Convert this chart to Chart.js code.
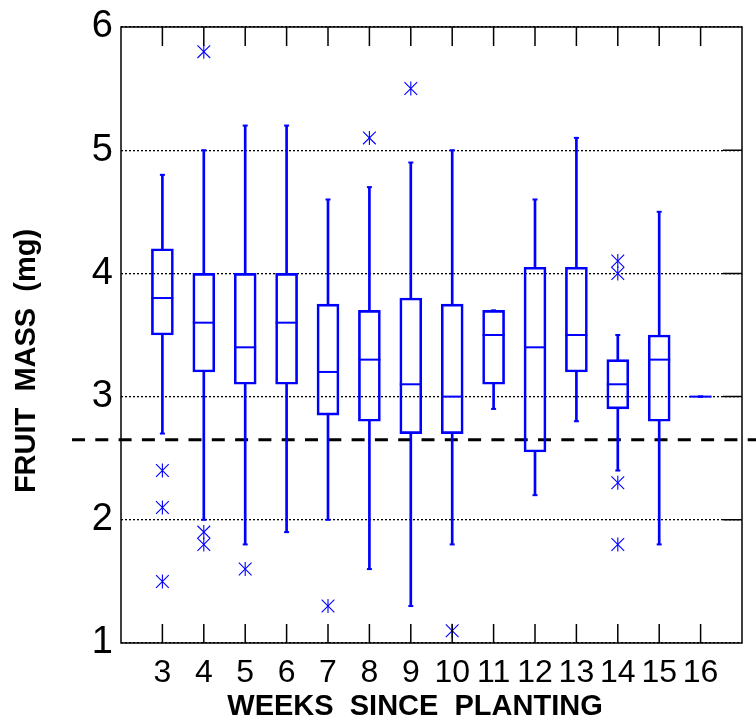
<!DOCTYPE html>
<html>
<head>
<meta charset="utf-8">
<script src="https://cdn.jsdelivr.net/npm/chart.js@4.4.1/dist/chart.umd.min.js"></script>
<style>
  html, body { margin: 0; padding: 0; background: #fff; }
  canvas { display: block; }
</style>
</head>
<body>
<canvas id="chart" width="756" height="723"></canvas>
<script>
// box plot of fruit mass per week
const weeks        = [3, 4, 5, 6, 7, 8, 9, 10, 11, 12, 13, 14, 15, 16];
const lowerWhisker = [2.7, 2.0, 1.8, 1.9, 2.0, 1.6, 1.3, 1.8, 2.9, 2.2, 2.8, 2.4, 1.8, 3.0];
const q1           = [3.5, 3.2, 3.1, 3.1, 2.85, 2.8, 2.7, 2.7, 3.1, 2.55, 3.2, 2.9, 2.8, 3.0];
const medians      = [3.8, 3.6, 3.4, 3.6, 3.2, 3.3, 3.1, 3.0, 3.5, 3.4, 3.5, 3.1, 3.3, 3.0];
const q3           = [4.2, 4.0, 4.0, 4.0, 3.75, 3.7, 3.8, 3.75, 3.7, 4.05, 4.05, 3.3, 3.5, 3.0];
const upperWhisker = [4.8, 5.0, 5.2, 5.2, 4.6, 4.7, 4.9, 5.0, 3.7, 4.6, 5.1, 3.5, 4.5, 3.0];
// outliers as [week, value]
const outliers = [
  [3, 2.4], [3, 2.1], [3, 1.5],
  [4, 5.8], [4, 1.9], [4, 1.8],
  [5, 1.6], [7, 1.3], [8, 5.1], [9, 5.5], [10, 1.1],
  [14, 4.1], [14, 4.0], [14, 2.3], [14, 1.8]
];
const referenceLevel = 2.65;
const yTicks = [1, 2, 3, 4, 5, 6];

const BLUE = '#0000ff';
const FONT = '"Liberation Sans", Arial, Helvetica, sans-serif';

const boxData = weeks.map((w, i) => ({x: w, y: [q1[i], q3[i]]}));
const upperData = weeks.map((w, i) => ({x: w, y: [q3[i], upperWhisker[i]]}));
const lowerData = weeks.map((w, i) => ({x: w, y: [lowerWhisker[i], q1[i]]}));
const medianData = weeks.map((w, i) => ({x: w, y: medians[i]}));
const capData = weeks.map((w, i) => ({x: w, y: upperWhisker[i]}))
  .concat(weeks.map((w, i) => ({x: w, y: lowerWhisker[i]})));
const outlierData = outliers.map(o => ({x: o[0], y: o[1]}));

// frame, inner ticks, dashed reference line and axis titles
const decorations = {
  id: 'decorations',
  beforeDatasetsDraw(chart) {
    const {ctx, scales: {y}} = chart;
    const py = y.getPixelForValue(referenceLevel);
    ctx.save();
    ctx.strokeStyle = '#000';
    ctx.lineWidth = 3;
    ctx.setLineDash([13, 10.3]);
    ctx.beginPath();
    ctx.moveTo(72, py);
    ctx.lineTo(chart.width, py);
    ctx.stroke();
    ctx.restore();
  },
  afterDraw(chart) {
    const {ctx, chartArea: a, scales: {x, y}} = chart;
    ctx.save();
    ctx.strokeStyle = '#000';
    ctx.lineWidth = 1.5;
    ctx.strokeRect(a.left, a.top, a.right - a.left, a.bottom - a.top);
    ctx.beginPath();
    weeks.forEach(w => {
      const px = x.getPixelForValue(w);
      ctx.moveTo(px, a.bottom); ctx.lineTo(px, a.bottom - 19);
      ctx.moveTo(px, a.top); ctx.lineTo(px, a.top + 19);
    });
    yTicks.slice(1, -1).forEach(v => {
      const py = y.getPixelForValue(v);
      ctx.moveTo(a.right, py); ctx.lineTo(a.right - 19, py);
    });
    ctx.stroke();

    ctx.fillStyle = '#000';
    ctx.font = 'bold 29px ' + FONT;
    ctx.textAlign = 'center';
    ctx.textBaseline = 'middle';
    ctx.fillText('WEEKS  SINCE  PLANTING', 415, 707);
    ctx.translate(27, 361);
    ctx.rotate(-Math.PI / 2);
    ctx.fillText('FRUIT  MASS  (mg)', 0, 0);
    ctx.restore();
  }
};

new Chart(document.getElementById('chart'), {
  type: 'bar',
  data: {
    datasets: [
      {type: 'bar', data: boxData, grouped: false, barThickness: 22,
       backgroundColor: 'rgba(0,0,0,0)', borderColor: BLUE, borderWidth: 2, borderSkipped: false},
      {type: 'bar', data: upperData, grouped: false, barThickness: 2,
       backgroundColor: BLUE, borderWidth: 0},
      {type: 'bar', data: lowerData, grouped: false, barThickness: 2,
       backgroundColor: BLUE, borderWidth: 0},
      {type: 'scatter', data: medianData, pointStyle: 'line', pointRadius: 11,
       pointBorderWidth: 2, pointBorderColor: BLUE},
      {type: 'scatter', data: capData, pointStyle: 'line', pointRadius: 2.5,
       pointBorderWidth: 2, pointBorderColor: BLUE},
      {type: 'scatter', data: outlierData, pointStyle: 'crossRot', pointRadius: 9,
       pointBorderWidth: 1.1, pointBorderColor: BLUE},
      {type: 'scatter', data: outlierData, pointStyle: 'line', pointRotation: 90, pointRadius: 7,
       pointBorderWidth: 1.1, pointBorderColor: BLUE}
    ]
  },
  options: {
    responsive: false,
    devicePixelRatio: 1,
    animation: false,
    layout: {padding: {top: 23, right: 11, left: 0, bottom: 0}},
    plugins: {legend: {display: false}, tooltip: {enabled: false}},
    scales: {
      x: {
        type: 'linear', min: 2, max: 17, offset: false,
        afterFit: s => { s.height = 80; },
        grid: {display: false, drawTicks: false},
        border: {display: false},
        ticks: {
          stepSize: 1, autoSkip: false, maxRotation: 0, padding: 14, color: '#000',
          font: {family: FONT, size: 32, lineHeight: 1},
          callback: v => (v >= 3 && v <= 16 ? String(v) : '')
        }
      },
      y: {
        min: 1, max: 6,
        afterFit: s => { s.width = 121; },
        grid: {color: '#000', lineWidth: 1.3, drawTicks: false},
        border: {display: false, dash: [2, 2]},
        ticks: {
          stepSize: 1, padding: 8, color: '#000',
          font: {family: FONT, size: 38, lineHeight: 1}
        }
      }
    }
  },
  plugins: [decorations]
});
</script>
</body>
</html>
